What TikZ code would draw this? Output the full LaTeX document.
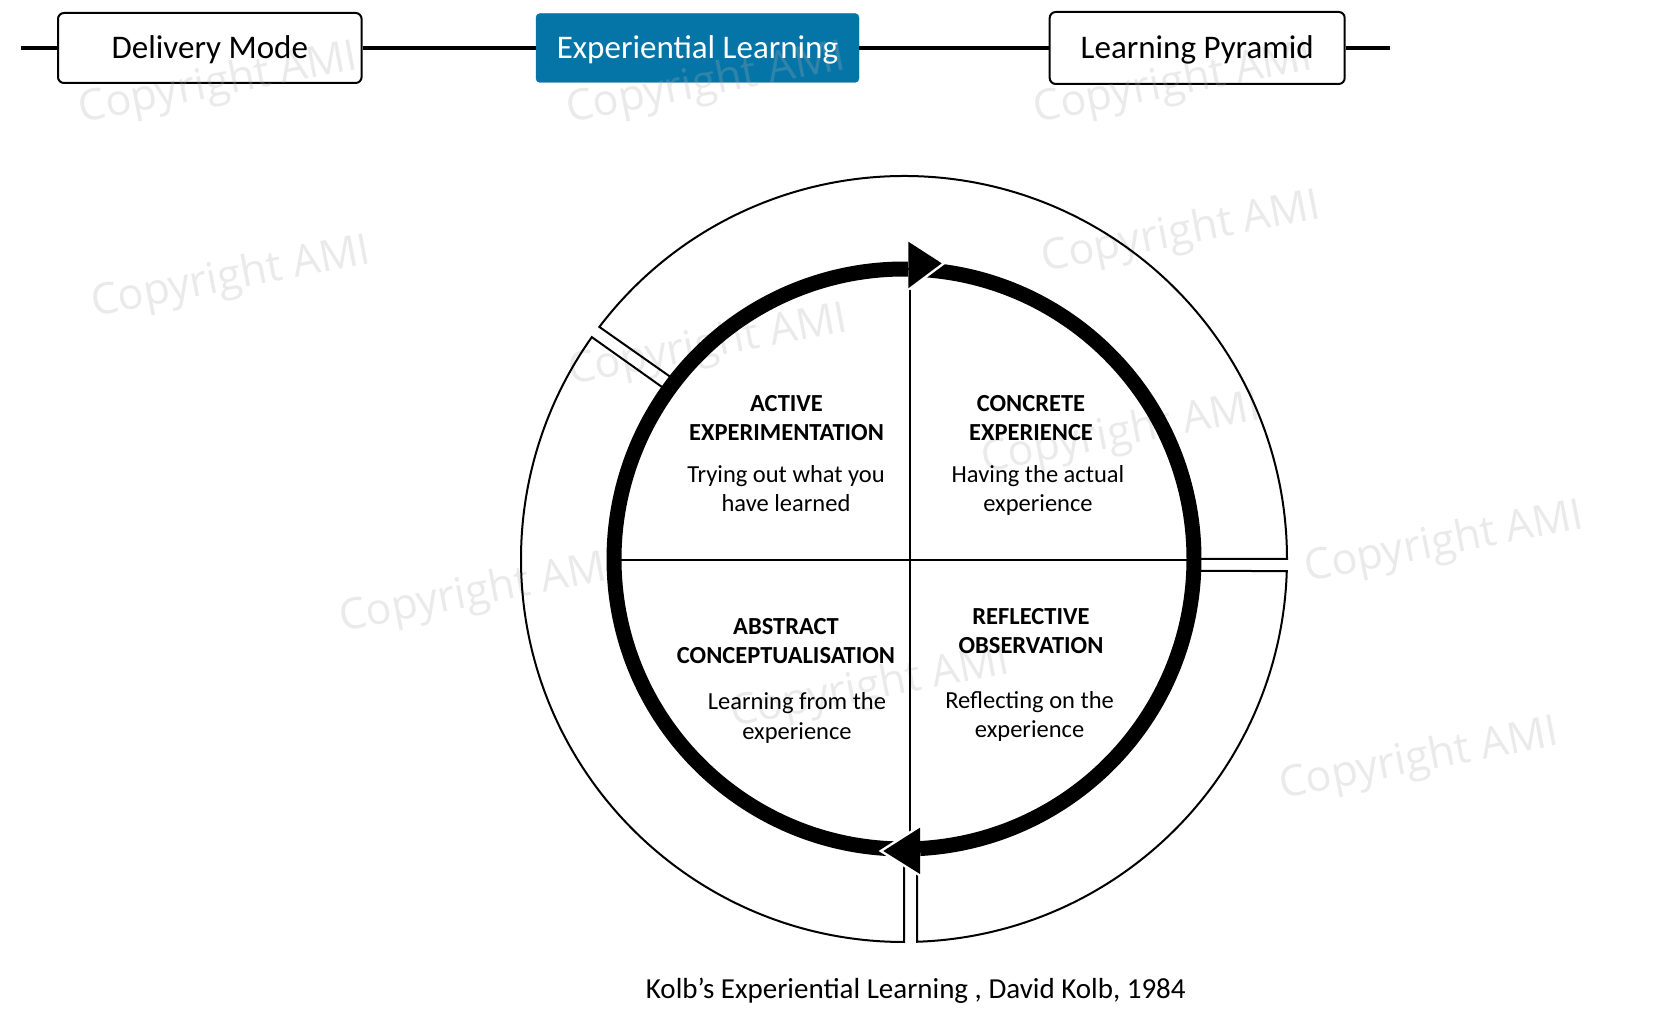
\documentclass[tikz,border=0pt]{standalone}
\usepackage{fontspec}
\setmainfont{Carlito}
\newfontfamily\wmfont{Open Sans}
\definecolor{elblue}{RGB}{5,117,168}
\definecolor{wmgray}{RGB}{175,175,175}
\begin{document}
\begin{tikzpicture}[x=1pt,y=1pt,
  topbox/.style={draw=black, line width=2pt, rounded corners=6pt, fill=white, minimum height=70pt, inner sep=0pt},
  activebox/.style={draw=elblue, fill=elblue, rounded corners=4pt, minimum height=69pt, inner sep=0pt},
  boxtext/.style={font=\fontsize{33}{40}\selectfont, text height=21.2pt, text depth=0pt, inner sep=0pt, anchor=center},
  barline/.style={line width=4.7pt},
  qhead/.style={font=\fontsize{24.5}{29.6}\selectfont\bfseries, anchor=base, inner sep=0pt},
  qbody/.style={font=\fontsize{24.5}{29.6}\selectfont, anchor=base, inner sep=0pt},
  wm/.style={font=\wmfont\fontsize{43}{50}\selectfont, text=wmgray, text opacity=0.26, rotate=11, inner sep=0pt},
  ringseg/.style={draw=black, line width=2pt, line join=miter},
  cycarc/.style={draw=black, line width=15pt},
  divider/.style={draw=black, line width=2pt},
  headcut/.style={draw=white, line width=5pt}
]
\useasboundingbox (0,0) rectangle (1663,1014);
\fill[white] (0,0) rectangle (1663,1014);

% top navigation bar
\coordinate (barL) at (21,966);
\coordinate (barR) at (1390,966);
\node[topbox, minimum width=303.6pt] (dm) at (209.8,966) {};
\node[activebox, minimum width=323pt] (el) at (697.5,966) {};
\node[topbox, minimum width=295pt, minimum height=72pt] (lp) at (1197.2,966) {};
\draw[barline] (barL) -- (dm.west);
\draw[barline] (dm.east) -- (el.west);
\draw[barline] (el.east) -- (lp.west);
\draw[barline] (lp.east) -- (barR);

% watermarks
\node[wm] (w1) at (218.5,929) {Copyright AMI};
\node[wm] (w2) at (706,929) {Copyright AMI};
\node[wm] (w3) at (1173.6,929) {Copyright AMI};
\node[wm] (w4) at (231,735) {Copyright AMI};
\node[wm] (w5) at (1181.5,780) {Copyright AMI};
\node[wm] (w6) at (708,667) {Copyright AMI};
\node[wm] (w7) at (1121,579) {Copyright AMI};
\node[wm] (w8) at (479,420) {Copyright AMI};
\node[wm] (w9) at (1444.5,470) {Copyright AMI};
\node[wm] (w10) at (870,325) {Copyright AMI};
\node[wm] (w11) at (1419,253.5) {Copyright AMI};

% box texts
\node[boxtext] (dmt) at (dm.center) {Delivery Mode};
\node[boxtext, text=white] (elt) at (el.center) {Experiential Learning};
\node[boxtext] (lpt) at (lp.center) {Learning Pyramid};

% cycle
\begin{scope}[shift={(904,455)}]
  % outer ring segments
  \draw[ringseg] (142.7:383pt) arc[start angle=142.7, end angle=0, radius=383pt]
        -- (0:290pt) arc[start angle=0, end angle=142.0, radius=290pt] -- cycle;
  \draw[ringseg] (-1.8:383pt) arc[start angle=-1.8, end angle=-88.05, radius=383pt]
        -- (-87.43:290pt) arc[start angle=-87.43, end angle=-2.37, radius=290pt] -- cycle;
  \draw[ringseg] (-90:383pt) arc[start angle=-90, end angle=-215.4, radius=383pt]
        -- (-215.4:290pt) arc[start angle=-215.4, end angle=-90, radius=290pt] -- cycle;
  % quadrant dividers
  \draw[divider] (6,289) -- (6,-290);
  \draw[divider] (-290,-1) -- (290,-1);
  % thick cycle arcs
  \draw[cycarc] (87.83:290pt) arc[start angle=87.83, end angle=-86.84, radius=290pt];
  \draw[cycarc] (-89.8:290pt) arc[start angle=-89.8, end angle=-270.8, radius=290pt];
  % arrowheads
  \draw[headcut] (4.3,317.3) -- (37.7,295.7) -- (4.3,270.7);
  \fill[black] (4.3,317.3) -- (37.7,295.7) -- (4.3,270.7) -- cycle;
  \draw[headcut] (16,-268.7) -- (-20.7,-292) -- (16,-315);
  \fill[black] (16,-268.7) -- (-20.7,-292) -- (16,-315) -- cycle;
\end{scope}

% quadrant texts
\node[qhead] (ae1) at (786.5,602.5) {ACTIVE};
\node[qhead] (ae2) at (786.5,573) {EXPERIMENTATION};
\node[qbody] (ae3) at (786,531.6) {Trying out what you};
\node[qbody] (ae4) at (786,502) {have learned};

\node[qhead] (ce1) at (1031,602.5) {CONCRETE};
\node[qhead] (ce2) at (1031,573) {EXPERIENCE};
\node[qbody] (ce3) at (1038,531.6) {Having the actual};
\node[qbody] (ce4) at (1038,502) {experience};

\node[qhead] (ac1) at (786,379.5) {ABSTRACT};
\node[qhead] (ac2) at (786,350) {CONCEPTUALISATION};
\node[qbody] (ac3) at (797,304) {Learning from the};
\node[qbody] (ac4) at (797,274.4) {experience};

\node[qhead] (ro1) at (1031,389.7) {REFLECTIVE};
\node[qhead] (ro2) at (1031,360) {OBSERVATION};
\node[qbody] (ro3) at (1029.6,305.5) {Reflecting on the};
\node[qbody] (ro4) at (1029.6,276) {experience};

% caption
\node[font=\fontsize{29}{35}\selectfont, anchor=base, inner sep=0pt] (cap) at (915.8,15) {Kolb{\char39}s Experiential Learning , David Kolb, 1984};
\end{tikzpicture}
\end{document}
